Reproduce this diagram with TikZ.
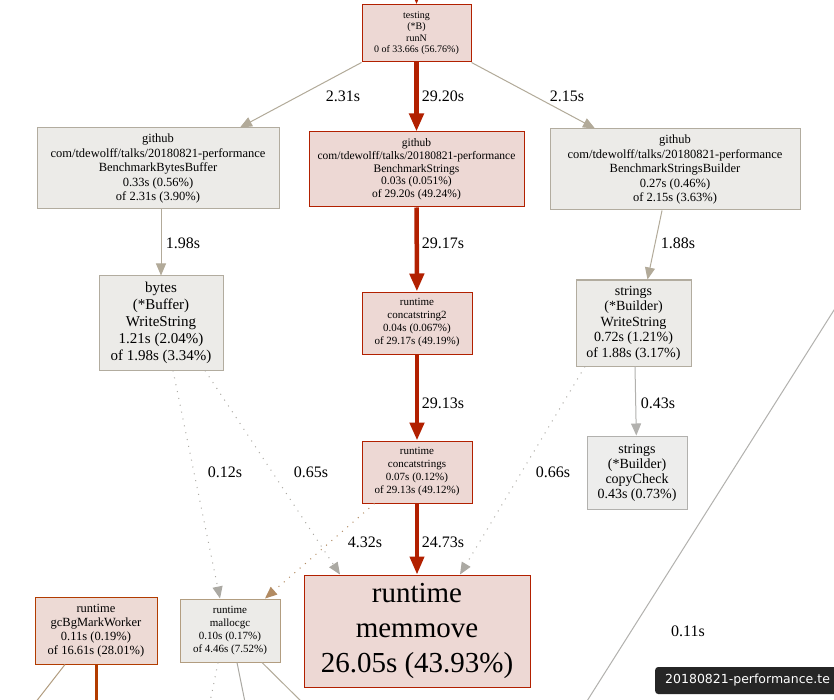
\documentclass[tikz,border=0pt]{standalone}
\usepackage{fontspec}
\setmainfont{Liberation Serif}
\newfontfamily\tipfont{DejaVu Sans}
\usetikzlibrary{arrows.meta}
\usetikzlibrary{positioning}

\definecolor{hotfill}{HTML}{EDD8D4}
\definecolor{hotline}{HTML}{B22000}
\definecolor{warmline}{HTML}{B23C00}
\definecolor{warmfill}{HTML}{EDDAD5}
\definecolor{coldfill}{HTML}{ECEBE8}
\definecolor{coldline}{HTML}{B2AC9F}
\definecolor{greyfill}{HTML}{EDEDEC}
\definecolor{greyline}{HTML}{B2B1AE}
\definecolor{tanline}{HTML}{B29D80}
\definecolor{edgetan}{HTML}{B2AA99}
\definecolor{edgegrey}{HTML}{ABA9A3}
\definecolor{edgebrown}{HTML}{B28B62}
\definecolor{tipgrey}{HTML}{262626}

\newcommand{\fs}[2]{\fontsize{#1}{#2}\selectfont}

\tikzset{
	fn/.style={draw, rectangle, align=center, inner sep=0pt, line width=1pt},
	hot/.style={fn, fill=hotfill, draw=hotline},
	warm/.style={fn, fill=warmfill, draw=warmline},
	cold/.style={fn, fill=coldfill, draw=coldline},
	grey/.style={fn, fill=greyfill, draw=greyline},
	hotedge/.style={draw=hotline, line width=4.5pt, -{Triangle[length=18pt,width=14pt]}},
	thinedge/.style={draw=edgetan, line width=1pt, -{Triangle[length=12pt,width=10pt]}},
	dotedge/.style={thinedge, draw=edgegrey, dash pattern=on 1pt off 6pt},
	lbl/.style={font=\fs{16}{18}, inner sep=0pt}
}

\begin{document}
\begin{tikzpicture}[x=1pt,y=-1pt]
	\useasboundingbox (0,0) rectangle (834,700);
	\fill[white] (0,0) rectangle (834,700);
	\clip (0,0) rectangle (834,700);

	\node[hot, minimum width=109pt, minimum height=57pt, font=\fs{10}{11.5}] (runN) at (416.5,33.5)
		{testing\\(*B)\\runN\\0 of 33.66s (56.76\%)};
	\node[cold, minimum width=242pt, minimum height=81pt, font=\fs{12.5}{14.5}] (bbuf) at (158,168.5)
		{github\\com/tdewolff/talks/20180821-performance\\BenchmarkBytesBuffer\\0.33s (0.56\%)\\of 2.31s (3.90\%)};
	\node[hot, minimum width=215pt, minimum height=75pt, font=\fs{11.5}{12.7}] (bstr) at (416.5,169.5)
		{github\\com/tdewolff/talks/20180821-performance\\BenchmarkStrings\\0.03s (0.051\%)\\of 29.20s (49.24\%)};
	\node[cold, minimum width=250pt, minimum height=81pt, font=\fs{12.5}{14.5}] (bsb) at (675,169.5)
		{github\\com/tdewolff/talks/20180821-performance\\BenchmarkStringsBuilder\\0.27s (0.46\%)\\of 2.15s (3.63\%)};
	\node[cold, minimum width=124pt, minimum height=94pt, font=\fs{15}{17}] (bytes) at (161,323)
		{bytes\\(*Buffer)\\WriteString\\1.21s (2.04\%)\\of 1.98s (3.34\%)};
	\node[hot, minimum width=110pt, minimum height=62pt, font=\fs{11}{13}] (cs2) at (417,323)
		{runtime\\concatstring2\\0.04s (0.067\%)\\of 29.17s (49.19\%)};
	\node[cold, minimum width=115pt, minimum height=86pt, font=\fs{14}{15.5}] (sbws) at (633.5,323)
		{strings\\(*Builder)\\WriteString\\0.72s (1.21\%)\\of 1.88s (3.17\%)};
	\node[hot, minimum width=110pt, minimum height=62pt, font=\fs{11}{13}] (cs) at (417,472)
		{runtime\\concatstrings\\0.07s (0.12\%)\\of 29.13s (49.12\%)};
	\node[grey, minimum width=100pt, minimum height=73pt, font=\fs{14}{15}] (cc) at (637,472.5)
		{strings\\(*Builder)\\copyCheck\\0.43s (0.73\%)};
	\node[hot, minimum width=226pt, minimum height=112pt, font=\fs{29}{35}] (mm) at (417,631)
		{runtime\\memmove\\26.05s (43.93\%)};
	\node[warm, minimum width=122pt, minimum height=67pt, font=\fs{12.5}{14}] (gcw) at (96,630.5)
		{runtime\\gcBgMarkWorker\\0.11s (0.19\%)\\of 16.61s (28.01\%)};
	\node[cold, draw=tanline, minimum width=100pt, minimum height=63pt, font=\fs{11}{13}] (malloc) at (230,630.5)
		{runtime\\mallocgc\\0.10s (0.17\%)\\of 4.46s (7.52\%)};

	\coordinate (intop) at (416.5,-40);
	\coordinate (gcwa) at (28,712);
	\coordinate (gcwb) at (96,712);
	\coordinate (mga) at (208,712);
	\coordinate (mgb) at (247,712);
	\coordinate (mgc) at (312,712);
	\coordinate (fara) at (853,280);
	\coordinate (farb) at (575,720);

	\draw[hotedge] (intop) -- (runN);
	\draw[thinedge] (runN.south west) -- ([xshift=82pt]bbuf.north);
	\draw[hotedge] (runN) -- (bstr);
	\draw[thinedge] (runN.south east) -- ([xshift=-80pt]bsb.north);
	\draw[thinedge] (bbuf.south -| bytes) -- (bytes);
	\draw[hotedge] (bstr) -- (cs2);
	\draw[thinedge] ([xshift=-13pt]bsb.south) -- ([xshift=14pt]sbws.north);
	\draw[hotedge] (cs2) -- (cs);
	\draw[thinedge, draw=greyline] ([xshift=1.5pt]sbws.south) -- (cc);
	\draw[dotedge] ([xshift=12pt]bytes.south) -- ([xshift=-10pt]malloc.north);
	\draw[dotedge] ([xshift=44pt]bytes.south) -- ([xshift=-77pt]mm.north);
	\draw[dotedge] ([xshift=-48.5pt]sbws.south) -- ([xshift=43pt]mm.north);
	\draw[dotedge, draw=edgebrown] ([xshift=13pt]cs.south west) -- ([xshift=35pt]malloc.north);
	\draw[hotedge, line width=4pt] (cs) -- (mm);
	\draw[draw=tanline, line width=1pt] ([xshift=-31pt]gcw.south) -- (gcwa);
	\draw[draw=warmline, line width=3pt] (gcw) -- (gcwb);
	\draw[draw=edgegrey, line width=1pt, dash pattern=on 1pt off 6pt] ([xshift=-12pt]malloc.south) -- (mga);
	\draw[draw=edgegrey, line width=1pt] ([xshift=7pt]malloc.south) -- (mgb);
	\draw[draw=edgetan, line width=1pt] ([xshift=32pt]malloc.south) -- (mgc);
	\draw[draw=greyline, line width=1pt] (fara) -- (farb);

	\foreach \n/\p/\t in {l1/{343,96}/2.31s, l2/{443,96}/29.20s, l3/{567,96}/2.15s,
		l4/{183,243}/1.98s, l5/{443,243}/29.17s, l6/{678,243}/1.88s,
		l7/{443,403}/29.13s, l8/{658,403}/0.43s, l9/{225,472}/0.12s,
		l10/{311,472}/0.65s, l11/{553,472}/0.66s, l12/{365,542}/4.32s,
		l13/{443,542}/24.73s, l14/{688,631}/0.11s}
		\node[lbl] (\n) at (\p) {\t};

	\node[fill=tipgrey, text=white, rounded corners=3pt, anchor=west, inner xsep=5pt,
		minimum width=190pt, minimum height=27pt, text width=170pt, align=left,
		font=\tipfont\fs{12.5}{15}] (tip) at (655,680.5) {20180821-performance.te};
\end{tikzpicture}
\end{document}
